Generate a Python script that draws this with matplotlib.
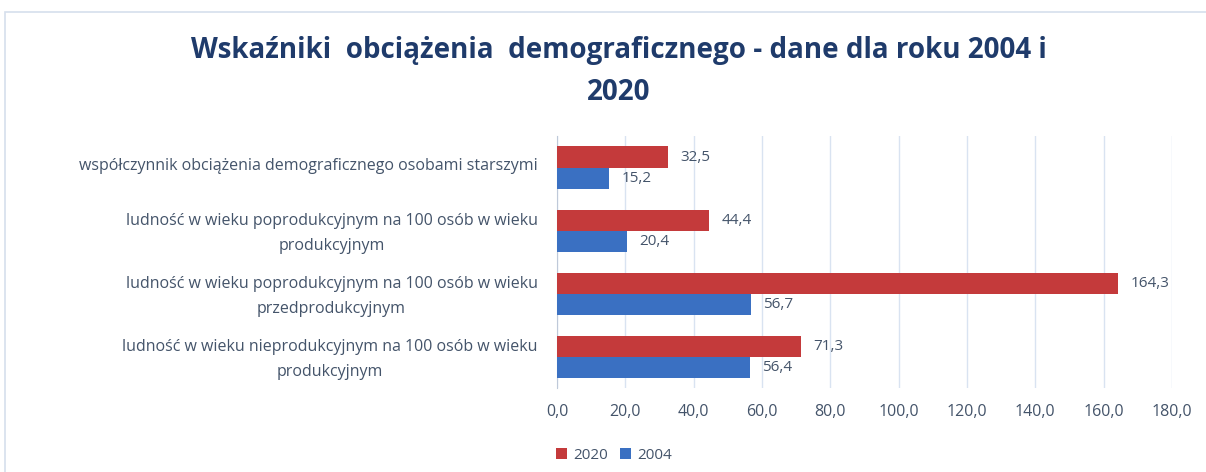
import matplotlib
matplotlib.use("Agg")
import matplotlib.pyplot as plt
import numpy as np

categories = [
    "współczynnik obciążenia demograficznego osobami starszymi",
    "ludność w wieku poprodukcyjnym na 100 osób w wieku\nprodukcyjnym",
    "ludność w wieku poprodukcyjnym na 100 osób w wieku\nprzedprodukcyjnym",
    "ludność w wieku nieprodukcyjnym na 100 osób w wieku\nprodukcyjnym",
]
values_2020 = [32.5, 44.4, 164.3, 71.3]
values_2004 = [15.2, 20.4, 56.7, 56.4]
xticks = [0, 20, 40, 60, 80, 100, 120, 140, 160, 180]

red = "#C43A3B"
blue = "#3A70C2"
text_col = "#44546A"

plt.rcParams["font.family"] = ["Open Sans", "DejaVu Sans"]

fig = plt.figure(figsize=(12.06, 4.72), dpi=100)
ax = fig.add_axes([0.4619, 0.177, 0.5099, 0.534])

# chart frame
fig.patches.append(plt.Rectangle((0.004, -0.02), 1.2, 0.995, transform=fig.transFigure,
                                 fill=False, edgecolor="#D6DFEC", linewidth=1.2))

y = np.arange(len(categories))
h = 0.34
b1 = ax.barh(y - h / 2, values_2020, height=h, color=red, label="2020", zorder=3)
b2 = ax.barh(y + h / 2, values_2004, height=h, color=blue, label="2004", zorder=3)

for bars in (b1, b2):
    for bar in bars:
        w = bar.get_width()
        ax.annotate(f"{w:.1f}".replace(".", ","),
                    (w, bar.get_y() + bar.get_height() / 2),
                    xytext=(9, 0), textcoords="offset points",
                    va="center", ha="left", fontsize=11, color=text_col)

ax.set_xlim(0, 180)
ax.set_ylim(len(categories) - 0.5, -0.5)
ax.set_xticks(xticks)
ax.set_xticklabels([f"{t:.1f}".replace(".", ",") for t in xticks])
ax.set_yticks(y - 0.06)
ax.set_yticklabels(categories, multialignment="center", linespacing=1.75)
ax.tick_params(axis="both", length=0, labelsize=11.5, labelcolor=text_col)
ax.tick_params(axis="x", pad=11)
ax.tick_params(axis="y", pad=14)

ax.grid(axis="x", color="#D9E3F1", linewidth=1, zorder=0)
for s in ["top", "right", "bottom"]:
    ax.spines[s].set_visible(False)
ax.spines["left"].set_color("#BFC9D9")

fig.text(0.513, 0.893, "Wskaźniki  obciążenia  demograficznego - dane dla roku 2004 i",
         ha="center", va="center", fontsize=20, fontweight="bold", color="#1F3B6B")
fig.text(0.513, 0.805, "2020", ha="center", va="center", fontsize=20,
         fontweight="bold", color="#1F3B6B")

ax.legend(loc="lower left", bbox_to_anchor=(0.45, -0.01), bbox_transform=fig.transFigure,
          ncol=2, frameon=False, fontsize=11, handlelength=0.7, handleheight=0.7,
          handletextpad=0.4, columnspacing=0.8, labelcolor=text_col)

fig.savefig("out.png", dpi=100)
